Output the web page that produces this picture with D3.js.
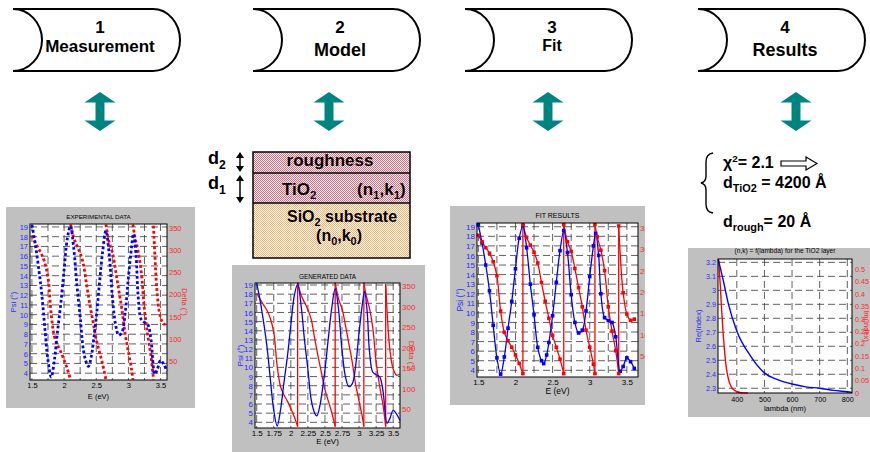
<!DOCTYPE html>
<html lang="en">
<head>
<meta charset="utf-8">
<style>
body { margin: 0; background: #fff; }
svg text { font-family: Arial, "Liberation Sans", sans-serif; }
.grid line { stroke: #3a3a3a; stroke-width: 0.8; stroke-dasharray: 7,4; }
.bold { font-weight: bold; }
</style>
</head>
<body>
<svg id="chart" width="870" height="452"></svg>
<script src="https://d3js.org/d3.v7.min.js"></script>
<script>
// ---------- data ----------
var stepNumbers = ["1", "2", "3", "4"];
var stepNames = ["Measurement", "Model", "Fit", "Results"];

// ellipsometric spectra
var energy = [1.50, 1.55, 1.60, 1.65, 1.70, 1.75, 1.80, 1.85, 1.90, 1.95, 2.00, 2.05, 2.10, 2.15, 2.20, 2.25,
              2.30, 2.35, 2.38, 2.42, 2.45, 2.50, 2.55, 2.60, 2.65, 2.70, 2.75, 2.80, 2.85, 2.90, 2.95, 3.00, 3.05,
              3.08, 3.12, 3.15, 3.20, 3.25, 3.30, 3.35, 3.41, 3.45, 3.50, 3.55, 3.60];
var psi = [19.2, 17.3, 15.0, 12.3, 8.7, 5.3, 3.6, 5.4, 8.4, 11.2, 14.6, 17.8, 19.1, 16.8, 13.0, 9.8,
           6.4, 5.0, 4.7, 5.6, 6.9, 9.7, 13.2, 16.5, 18.6, 16.3, 11.9, 9.0, 7.9, 8.2, 10.2, 13.8, 17.0,
           18.3, 16.0, 12.0, 9.5, 9.2, 9.0, 7.5, 3.9, 4.4, 5.3, 4.9, 4.2];

var deltaE = [1.50, 1.55, 1.60, 1.65, 1.70, 1.75, 1.80, 1.85, 1.90, 1.95, 2.00, 2.05, 2.10,
              2.10, 2.15, 2.20, 2.25, 2.30, 2.35, 2.40, 2.45, 2.50, 2.55, 2.60, 2.65,
              2.65, 2.70, 2.75, 2.80, 2.85, 2.90, 2.95, 3.00, 3.05, 3.07,
              3.07, 3.10, 3.15, 3.20, 3.25, 3.30, 3.35, 3.39,
              3.39, 3.45, 3.50, 3.55, 3.60];
var delta = [333, 318, 304, 291, 271, 238, 155, 105, 85, 70, 52, 32, 8,
             358, 328, 310, 293, 268, 222, 178, 138, 98, 70, 42, 8,
             358, 318, 295, 255, 210, 165, 110, 70, 30, 8,
             358, 330, 298, 250, 165, 108, 62, 8,
             355, 198, 148, 133, 136];

var psiTicks = [4, 5, 6, 7, 8, 9, 10, 11, 12, 13, 14, 15, 16, 17, 18, 19];
var deltaTicks = [50, 100, 150, 200, 250, 300, 350];
var energyTicks = [1.5, 2, 2.5, 3, 3.5];
var energyTicksFine = [1.5, 1.75, 2, 2.25, 2.5, 2.75, 3, 3.25, 3.5];

// TiO2 optical constants
var lambdaN = [333, 350, 370, 400, 450, 500, 550, 600, 650, 700, 750, 800, 817];
var nIndex = [3.22, 3.08, 2.90, 2.71, 2.53, 2.41, 2.36, 2.33, 2.31, 2.30, 2.285, 2.275, 2.27];
var lambdaK = [334, 340, 345, 350, 355, 360, 370, 380, 390, 400, 415, 440];
var kIndex = [0.54, 0.44, 0.34, 0.25, 0.18, 0.12, 0.055, 0.025, 0.012, 0.006, 0.001, 0];
var nTicks = [2.3, 2.4, 2.5, 2.6, 2.7, 2.8, 2.9, 3, 3.1, 3.2];
var kTicks = [0, 0.05, 0.1, 0.15, 0.2, 0.25, 0.3, 0.35, 0.4, 0.45, 0.5];
var lambdaTicks = [400, 500, 600, 700, 800];

// ---------- layout ----------
var svg = d3.select("#chart");
var defs = svg.append("defs");
var BLUE = "#0000ff", RED = "#ff0000", BLUE_T = "#2a2aff", RED_T = "#ff2a2a";
var TEAL = "#00847f", PANEL = "#c0c0c0";
var plain = function(d) { return String(d); };

var boxX = [13, 253, 465, 698];
var nameSize = [17, 18, 16, 18];
var nameY = [52, 56, 51, 56];
var textCx = [100, 340, 552, 785];
var arrowCx = [100, 329, 548, 796];

// process boxes
function boxPath(x0, y0, w, h) {
  var x1 = x0 + w, y1 = y0 + h, r = 27, b = 29, ry = h / 2;
  return "M" + x0 + "," + y0 + "L" + (x1 - r) + "," + y0 +
    "A" + r + "," + ry + " 0 0 1 " + (x1 - r) + "," + y1 +
    "L" + x0 + "," + y1 +
    "A" + b + "," + ry + " 0 0 0 " + x0 + "," + y0 + "Z";
}
boxX.forEach(function(x0, i) {
  svg.append("path").attr("d", boxPath(x0, 9, 167, 62))
    .attr("fill", "#fff").attr("stroke", "#000").attr("stroke-width", 2);
  svg.append("text").attr("class", "bold").attr("x", textCx[i]).attr("y", 33)
    .attr("text-anchor", "middle").attr("font-size", 17).text(stepNumbers[i]);
  svg.append("text").attr("class", "bold").attr("x", textCx[i]).attr("y", nameY[i])
    .attr("text-anchor", "middle").attr("font-size", nameSize[i]).text(stepNames[i]);
});

// teal double arrows
arrowCx.forEach(function(cx) {
  var t = 92, b = 131, hh = 10.5, hw = 15.5, sw = 4.5;
  var pts = [[cx, t], [cx + hw, t + hh], [cx + sw, t + hh], [cx + sw, b - hh], [cx + hw, b - hh],
             [cx, b], [cx - hw, b - hh], [cx - sw, b - hh], [cx - sw, t + hh], [cx - hw, t + hh]];
  svg.append("path").attr("d", "M" + pts.join("L") + "Z").attr("fill", TEAL);
});

// ---------- layer model ----------
function checker(id, color) {
  var p = defs.append("pattern").attr("id", id).attr("width", 2).attr("height", 2)
    .attr("patternUnits", "userSpaceOnUse");
  p.append("rect").attr("width", 2).attr("height", 2).attr("fill", "#fff");
  p.append("rect").attr("width", 1).attr("height", 1).attr("fill", color);
  p.append("rect").attr("x", 1).attr("y", 1).attr("width", 1).attr("height", 1).attr("fill", color);
}
checker("pink", "#e56981");
checker("orange", "#f3b36b");

var layers = svg.append("g");
layers.append("rect").attr("x", 253).attr("y", 152).attr("width", 157).attr("height", 51).attr("fill", "url(#pink)");
layers.append("rect").attr("x", 253).attr("y", 203).attr("width", 157).attr("height", 55).attr("fill", "url(#orange)");
layers.append("rect").attr("x", 253).attr("y", 152).attr("width", 157).attr("height", 106)
  .attr("fill", "none").attr("stroke", "#000").attr("stroke-width", 1.5);
layers.append("line").attr("x1", 253).attr("x2", 410).attr("y1", 173).attr("y2", 173).attr("stroke", "#000").attr("stroke-width", 1.5);
layers.append("line").attr("x1", 253).attr("x2", 410).attr("y1", 203).attr("y2", 203).attr("stroke", "#000").attr("stroke-width", 1.5);

function richText(parent, x, y, size, anchor, parts) {
  var t = parent.append("text").attr("class", "bold").attr("x", x).attr("y", y)
    .attr("font-size", size).attr("text-anchor", anchor);
  parts.forEach(function(p) {
    var s = t.append("tspan").text(p[0]);
    if (p[1] === "sub") s.attr("font-size", size * 0.68).attr("dy", size * 0.25);
    if (p[1] === "sup") s.attr("font-size", size * 0.62).attr("dy", -size * 0.38);
    if (p[1] === "back") s.attr("dy", -size * 0.25);
    if (p[1] === "down") s.attr("dy", size * 0.38);
  });
  return t;
}
richText(layers, 330, 166, 17, "middle", [["roughness"]]);
richText(layers, 282, 195, 17, "start", [["TiO"], ["2", "sub"]]);
richText(layers, 357, 195, 17, "start", [["(n"], ["1", "sub"], [",k", "back"], ["1", "sub"], [")", "back"]]);
richText(layers, 342, 222, 16, "middle", [["SiO"], ["2", "sub"], [" substrate", "back"]]);
richText(layers, 339, 241, 16, "middle", [["(n"], ["0", "sub"], [",k", "back"], ["0", "sub"], [")", "back"]]);
richText(layers, 208, 164, 18, "start", [["d"], ["2", "sub"]]);
richText(layers, 208, 189, 18, "start", [["d"], ["1", "sub"]]);

function smallArrow(x, y0, y1) {
  layers.append("line").attr("x1", x).attr("x2", x).attr("y1", y0 + 3).attr("y2", y1 - 3)
    .attr("stroke", "#000").attr("stroke-width", 1.5);
  layers.append("path").attr("d", "M" + x + "," + y0 + "L" + (x + 4) + "," + (y0 + 6) + "L" + (x - 4) + "," + (y0 + 6) + "Z");
  layers.append("path").attr("d", "M" + x + "," + y1 + "L" + (x + 4) + "," + (y1 - 6) + "L" + (x - 4) + "," + (y1 - 6) + "Z");
}
smallArrow(240, 152, 172);
smallArrow(240, 175, 203);

// ---------- results text ----------
var res = svg.append("g");
res.append("path").attr("d", "M713,153 Q706,154 706,162 L706,176 Q706,182 701,183 Q706,184 706,190 L706,204 Q706,212 713,213")
  .attr("fill", "none").attr("stroke", "#000").attr("stroke-width", 1.4);
richText(res, 723, 168, 16, "start", [["\u03c7"], ["2", "sup"], ["= 2.1", "down"]]);
richText(res, 723, 188, 16, "start", [["d"], ["TiO2", "sub"], [" = 4200 \u00c5", "back"]]);
richText(res, 723, 227, 16, "start", [["d"], ["rough", "sub"], ["= 20 \u00c5", "back"]]);
res.append("path")
  .attr("d", "M781,161 L806,161 L806,157 L817,163.5 L806,170 L806,166 L781,166 Z")
  .attr("fill", "#fff").attr("stroke", "#000").attr("stroke-width", 1.2);

// ---------- charts ----------
var clipId = 0;
function frame(o) {
  var id = "clip" + (clipId++);
  defs.append("clipPath").attr("id", id).append("rect")
    .attr("x", o.panel[0]).attr("y", o.panel[1]).attr("width", o.panel[2]).attr("height", o.panel[3]);
  var g = svg.append("g").attr("clip-path", "url(#" + id + ")");
  g.append("rect").attr("x", o.panel[0]).attr("y", o.panel[1]).attr("width", o.panel[2]).attr("height", o.panel[3])
    .attr("fill", PANEL);
  var L = o.plot[0], T = o.plot[1], R = o.plot[2], B = o.plot[3];
  g.append("rect").attr("x", L).attr("y", T).attr("width", R - L).attr("height", B - T).attr("fill", "#fff");

  var x = d3.scaleLinear().domain(o.xDomain).range([L, R]);
  var yL = d3.scaleLinear().domain(o.yLDomain).range([B, T]);
  var yR = d3.scaleLinear().domain(o.yRDomain).range([B, T]);

  var grid = g.append("g").attr("class", "grid");
  grid.selectAll(".h").data(o.yLTicks).join("line").attr("class", "h")
    .attr("x1", L).attr("x2", R).attr("y1", function(d) { return yL(d); }).attr("y2", function(d) { return yL(d); });
  grid.selectAll(".v").data(o.gridX).join("line").attr("class", "v")
    .attr("y1", T).attr("y2", B).attr("x1", function(d) { return x(d); }).attr("x2", function(d) { return x(d); });

  var plot = g.append("g");
  o.draw(plot, x, yL, yR);

  g.append("rect").attr("x", L).attr("y", T).attr("width", R - L).attr("height", B - T)
    .attr("fill", "none").attr("stroke", "#000").attr("stroke-width", 1);

  var ax = g.append("g").attr("transform", "translate(" + L + ",0)")
    .call(d3.axisLeft(yL).tickValues(o.yLTicks).tickSize(0).tickPadding(2).tickFormat(plain));
  ax.attr("font-size", o.tick).selectAll("text").attr("fill", BLUE_T);
  ax.select(".domain").remove();

  var ar = g.append("g").attr("transform", "translate(" + R + ",0)")
    .call(d3.axisRight(yR).tickValues(o.yRTicks).tickSize(0).tickPadding(o.rPad || 2).tickFormat(plain));
  ar.attr("font-size", o.tick).selectAll("text").attr("fill", RED_T);
  ar.select(".domain").remove();

  var ab = g.append("g").attr("transform", "translate(0," + B + ")")
    .call(d3.axisBottom(x).tickValues(o.xTicks).tickSize(0).tickPadding(o.xPad).tickFormat(plain));
  ab.attr("font-size", o.tick).selectAll("text").attr("fill", "#000");
  ab.select(".domain").remove();

  g.append("text").attr("x", (L + R) / 2).attr("y", o.titleY)
    .attr("text-anchor", "middle").attr("font-size", o.titleSize).text(o.title);
  g.append("text").attr("x", (L + R) / 2).attr("y", o.xLabelY)
    .attr("text-anchor", "middle").attr("font-size", o.labelSize).text(o.xLabel);
  g.append("text").attr("transform", "translate(" + o.yLLabelX + "," + (T + B) / 2 + ") rotate(-90)")
    .attr("text-anchor", "middle").attr("dy", "0.35em").attr("font-size", o.labelSize)
    .attr("fill", BLUE_T).text(o.yLLabel);
  g.append("text").attr("transform", "translate(" + o.yRLabelX + "," + (T + B) / 2 + ") rotate(90)")
    .attr("text-anchor", "middle").attr("dy", "0.35em").attr("font-size", o.labelSize)
    .attr("fill", RED_T).text(o.yRLabel);
}

// split delta into branches at the 0/360 wraps
function deltaBranches() {
  var out = [], cur = [];
  deltaE.forEach(function(e, i) {
    if (i > 0 && e === deltaE[i - 1]) { out.push(cur); cur = []; }
    cur.push([e, delta[i]]);
  });
  out.push(cur);
  return out;
}
var psiPts = energy.map(function(e, i) { return [e, psi[i]]; });
var branches = deltaBranches();

function drawSpectra(plot, x, yL, yR, mode) {
  var lp = d3.line().curve(d3.curveCatmullRom.alpha(0.5))
    .x(function(d) { return x(d[0]); }).y(function(d) { return yL(d[1]); });
  var lr = d3.line().curve(d3.curveCatmullRom.alpha(0.5))
    .x(function(d) { return x(d[0]); }).y(function(d) { return yR(d[1]); });
  var dotted = mode === "dots";
  function style(p, c) {
    p.attr("fill", "none").attr("stroke", c);
    if (dotted) p.attr("stroke-width", 2.8).attr("stroke-dasharray", "2.8,2.4");
    else p.attr("stroke-width", 1.3);
  }
  branches.forEach(function(b, i) {
    style(plot.append("path").attr("d", lr(b)), RED);
    if (!dotted && i > 0) {
      var prev = branches[i - 1][branches[i - 1].length - 1];
      plot.append("line").attr("x1", x(prev[0])).attr("x2", x(b[0][0]))
        .attr("y1", yR(prev[1])).attr("y2", yR(b[0][1])).attr("stroke", RED).attr("stroke-width", 1.3);
    }
  });
  style(plot.append("path").attr("d", lp(psiPts)), BLUE);
  if (mode === "fit") {
    var s = 3.6;
    plot.selectAll(".mp").data(psiPts).join("rect").attr("class", "mp")
      .attr("x", function(d) { return x(d[0]) - s / 2; }).attr("y", function(d) { return yL(d[1]) - s / 2; })
      .attr("width", s).attr("height", s).attr("fill", BLUE);
    plot.selectAll(".md").data(deltaE.map(function(e, i) { return [e, delta[i]]; })).join("rect").attr("class", "md")
      .attr("x", function(d) { return x(d[0]) - s / 2; }).attr("y", function(d) { return yR(d[1]) - s / 2; })
      .attr("width", s).attr("height", s).attr("fill", RED);
  }
}

var common = {
  yLTicks: psiTicks, yRTicks: deltaTicks, gridX: energyTicksFine,
  xLabel: "E (eV)", yLLabel: "Psi (\u00b0)", yRLabel: "Delta (\u00b0)"
};

frame(Object.assign({}, common, {
  panel: [6, 207, 189, 201], plot: [30, 224, 167, 380],
  xDomain: [1.47, 3.6], yLDomain: [3.3, 19.3], yRDomain: [7, 359],
  xTicks: energyTicks, tick: 7.5, xPad: 3, labelSize: 7.5,
  title: "EXPERIMENTAL DATA", titleY: 219, titleSize: 6.2,
  xLabelY: 399, yLLabelX: 13, yRLabelX: 185,
  draw: function(p, x, yL, yR) { drawSpectra(p, x, yL, yR, "dots"); }
}));

frame(Object.assign({}, common, {
  panel: [232, 265, 193, 187], plot: [255, 283, 400, 428],
  xDomain: [1.475, 3.6], yLDomain: [3.38, 19.22], yRDomain: [4.6, 357.3],
  xTicks: energyTicksFine, tick: 8, xPad: 2, labelSize: 8,
  title: "GENERATED DATA", titleY: 279, titleSize: 6.4,
  xLabelY: 444, yLLabelX: 240, yRLabelX: 412,
  draw: function(p, x, yL, yR) { drawSpectra(p, x, yL, yR, "line"); }
}));

frame(Object.assign({}, common, {
  panel: [450, 206, 195, 199], plot: [477, 223, 638, 377],
  xDomain: [1.482, 3.65], yLDomain: [3.3, 19.39], yRDomain: [0, 362],
  xTicks: energyTicks, tick: 8, xPad: 2, labelSize: 8.5,
  title: "FIT RESULTS", titleY: 218, titleSize: 7,
  xLabelY: 394, yLLabelX: 460, yRLabelX: 656,
  draw: function(p, x, yL, yR) { drawSpectra(p, x, yL, yR, "fit"); }
}));

frame({
  panel: [688, 248, 182, 169], plot: [718, 259, 852, 393],
  xDomain: [332, 817], yLDomain: [2.266, 3.224], yRDomain: [0, 0.541],
  yLTicks: nTicks, yRTicks: kTicks, gridX: lambdaTicks, xTicks: lambdaTicks,
  tick: 7.2, xPad: 4, rPad: 3, labelSize: 7.5,
  title: "(n,k) = f(lambda) for the TiO2 layer", titleY: 253, titleSize: 6.6,
  xLabel: "lambda (nm)", xLabelY: 411, yLLabel: "Re(Index)", yRLabel: "Im(Index)",
  yLLabelX: 698, yRLabelX: 867,
  draw: function(p, x, yL, yR) {
    var ln = d3.line().curve(d3.curveMonotoneX)
      .x(function(d, i) { return x(lambdaN[i]); }).y(function(d) { return yL(d); });
    var lk = d3.line().curve(d3.curveMonotoneX)
      .x(function(d, i) { return x(lambdaK[i]); }).y(function(d) { return yR(d); });
    p.append("path").attr("d", lk(kIndex)).attr("fill", "none").attr("stroke", RED).attr("stroke-width", 1.4);
    p.append("path").attr("d", ln(nIndex)).attr("fill", "none").attr("stroke", BLUE).attr("stroke-width", 1.4);
  }
});
</script>
</body>
</html>
